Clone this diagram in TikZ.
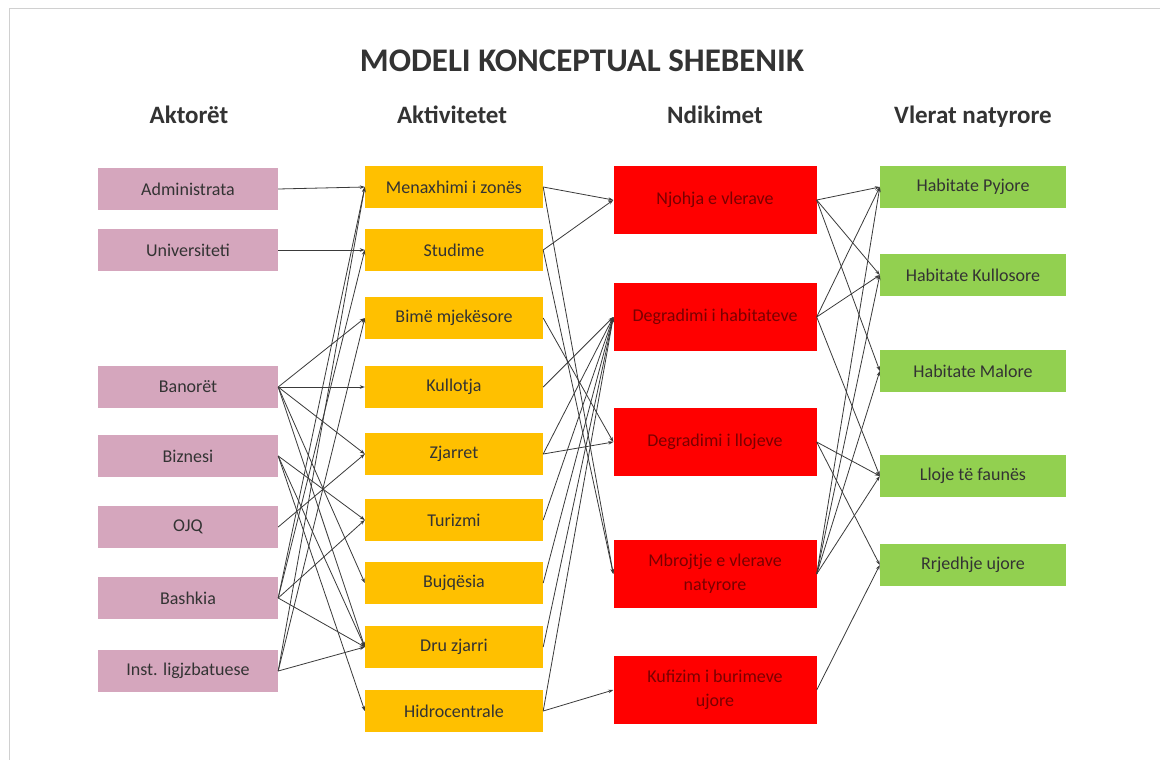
\documentclass[tikz,border=0pt]{standalone}
\usepackage{fontspec}
\setmainfont{Carlito}
\usetikzlibrary{arrows.meta}
\definecolor{pinkc}{HTML}{D5A6BD}
\definecolor{orangec}{HTML}{FFC000}
\definecolor{redc}{HTML}{FF0000}
\definecolor{greenc}{HTML}{92D050}
\definecolor{txt}{HTML}{333333}
\definecolor{darkred}{HTML}{7A0000}
\definecolor{linec}{HTML}{3A3A3A}
\definecolor{framec}{HTML}{D0D0D0}
\tikzset{
  base/.style={draw=none, minimum height=42pt, text=txt, font=\fontsize{18}{24}\selectfont, inner sep=0pt, align=center},
  actor/.style={base, fill=pinkc, minimum width=180pt},
  activ/.style={base, fill=orangec, minimum width=178pt},
  impact/.style={base, fill=redc, minimum width=203pt, minimum height=68pt, text=darkred},
  valbox/.style={base, fill=greenc, minimum width=186pt},
  link/.style={draw=linec, line width=0.8pt, -{Stealth[length=5pt,width=3.5pt]}},
  hdr/.style={font=\bfseries\fontsize{25}{30}\selectfont, text=txt, anchor=base},
  ttl/.style={font=\bfseries\fontsize{33}{38}\selectfont, text=txt, anchor=base}
}
\begin{document}
\begin{tikzpicture}[x=1pt,y=-1pt]
\useasboundingbox (0,0) rectangle (1160,760);
\fill[white] (0,0) rectangle (1160,760);
\draw[framec, line width=0.8pt] (9,760) -- (9,8) -- (1160,8);

\node[ttl] (title) at (582,71) {MODELI KONCEPTUAL SHEBENIK};
\node[hdr] (h1) at (189,123) {Aktorët};
\node[hdr] (h2) at (452,123) {Aktivitetet};
\node[hdr] (h3) at (715,123) {Ndikimet};
\node[hdr] (h4) at (973,123) {Vlerat natyrore};

% Actors
\node[actor] (adm)  at (188,189) {Administrata};
\node[actor] (univ) at (188,250) {Universiteti};
\node[actor] (ban)  at (188,387) {Banorët};
\node[actor] (biz)  at (188,456) {Biznesi};
\node[actor] (ojq)  at (188,527) {OJQ};
\node[actor] (bash) at (188,598) {Bashkia};
\node[actor] (inst) at (188,671) {Inst. ligjzbatuese};

% Activities
\node[activ] (menax) at (454,187) {Menaxhimi i zonës};
\node[activ] (stud)  at (454,250) {Studime};
\node[activ] (bime)  at (454,318) {Bimë mjekësore};
\node[activ] (kull)  at (454,387) {Kullotja};
\node[activ] (zjar)  at (454,454) {Zjarret};
\node[activ] (tur)   at (454,520) {Turizmi};
\node[activ] (bujq)  at (454,583) {Bujqësia};
\node[activ] (dru)   at (454,647) {Dru zjarri};
\node[activ] (hidro) at (454,711) {Hidrocentrale};

% Impacts
\node[impact] (njoh) at (715,200) {Njohja e vlerave};
\node[impact] (degh) at (715,317) {Degradimi i habitateve};
\node[impact] (degl) at (715,442) {Degradimi i llojeve};
\node[impact] (mbro) at (715,574) {Mbrojtje e vlerave\\natyrore};
\node[impact] (kufi) at (715,690) {Kufizim i burimeve\\ujore};

% Values
\node[valbox] (pyj)   at (973,187) {Habitate Pyjore};
\node[valbox] (kullo) at (973,275) {Habitate Kullosore};
\node[valbox] (mal)   at (973,371) {Habitate Malore};
\node[valbox] (lloje) at (973,476) {Lloje të faunës};
\node[valbox] (rrj)   at (973,565) {Rrjedhje ujore};

% Actors -> Activities
\draw[link] (adm.east) -- (menax.west);
\draw[link] (univ.east) -- (stud.west);
\draw[link] (ban.east) -- (bime.west);
\draw[link] (ban.east) -- (kull.west);
\draw[link] (ban.east) -- (zjar.west);
\draw[link] (ban.east) -- (bujq.west);
\draw[link] (ban.east) -- (dru.west);
\draw[link] (biz.east) -- (tur.west);
\draw[link] (biz.east) -- (dru.west);
\draw[link] (biz.east) -- (hidro.west);
\draw[link] (ojq.east) -- (zjar.west);
\draw[link] (bash.east) -- (menax.west);
\draw[link] (bash.east) -- (stud.west);
\draw[link] (bash.east) -- (tur.west);
\draw[link] (bash.east) -- (dru.west);
\draw[link] (inst.east) -- (menax.west);
\draw[link] (inst.east) -- (bime.west);
\draw[link] (inst.east) -- (dru.west);

% Activities -> Impacts
\draw[link] (menax.east) -- (njoh.west);
\draw[link] (stud.east) -- (njoh.west);
\draw[link] (menax.east) -- (mbro.west);
\draw[link] (stud.east) -- (mbro.west);
\draw[link] (bime.east) -- (degl.west);
\draw[link] (kull.east) -- (degh.west);
\draw[link] (zjar.east) -- (degh.west);
\draw[link] (zjar.east) -- (degl.west);
\draw[link] (tur.east) -- (degh.west);
\draw[link] (bujq.east) -- (degh.west);
\draw[link] (dru.east) -- (degh.west);
\draw[link] (hidro.east) -- (degh.west);
\draw[link] (hidro.east) -- (kufi.west);

% Impacts -> Values
\draw[link] (njoh.east) -- (pyj.west);
\draw[link] (njoh.east) -- (kullo.west);
\draw[link] (njoh.east) -- (mal.west);
\draw[link] (degh.east) -- (pyj.west);
\draw[link] (degh.east) -- (kullo.west);
\draw[link] (degh.east) -- (lloje.west);
\draw[link] (degl.east) -- (lloje.west);
\draw[link] (degl.east) -- (rrj.west);
\draw[link] (mbro.east) -- (pyj.west);
\draw[link] (mbro.east) -- (kullo.west);
\draw[link] (mbro.east) -- (mal.west);
\draw[link] (mbro.east) -- (lloje.west);
\draw[link] (kufi.east) -- (rrj.west);
\end{tikzpicture}
\end{document}
